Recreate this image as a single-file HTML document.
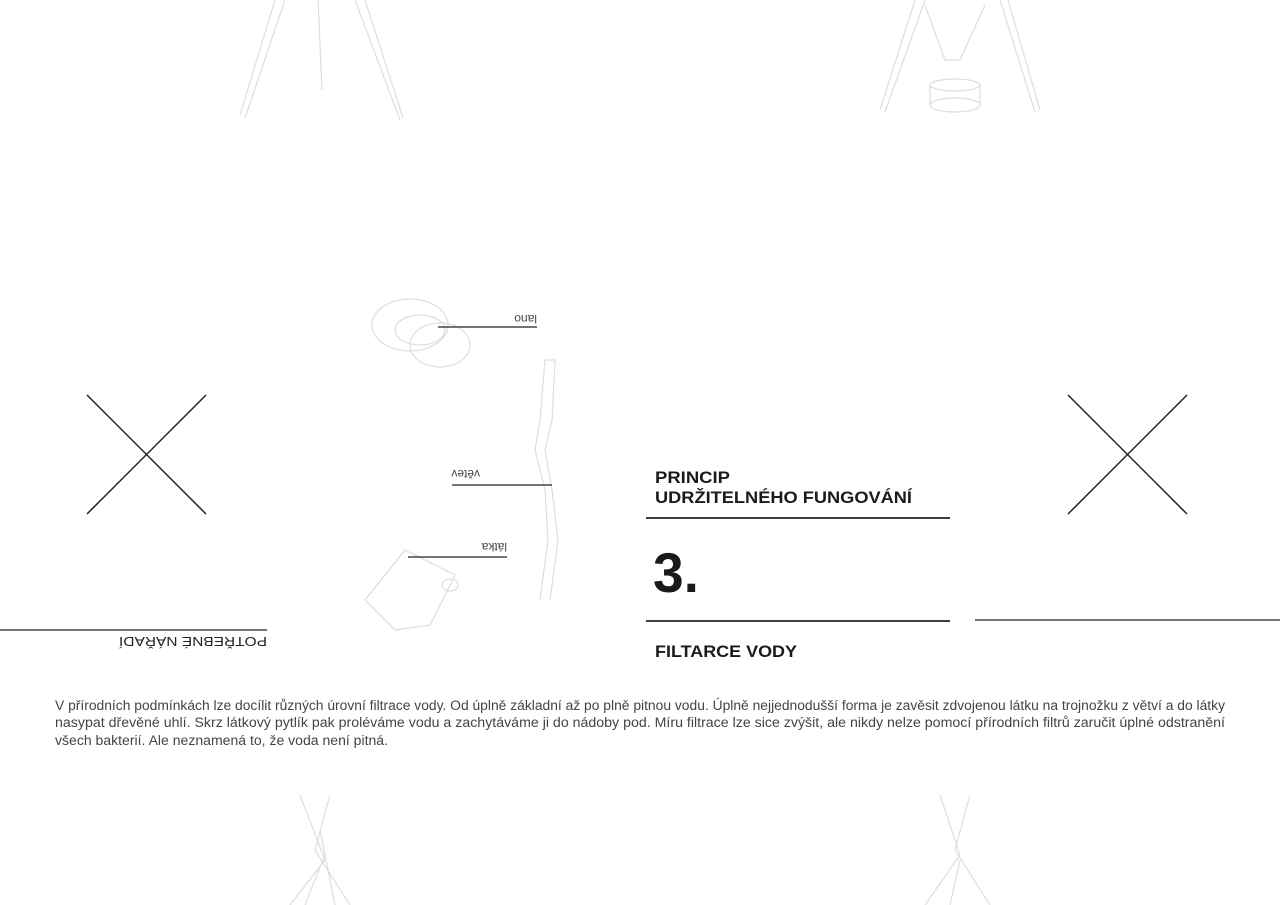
<!DOCTYPE html>
<html><head><meta charset="utf-8"><style>
body{margin:0;width:1280px;height:905px;background:#fff;overflow:hidden;position:relative;font-family:"Liberation Sans",sans-serif}
svg{position:absolute;left:0;top:0}
</style></head><body>
<svg width="1280" height="905" viewBox="0 0 1280 905">
<g stroke="#ddd" stroke-width="1.2" fill="none">
<path d="M275 0 L240 115 M285 0 L245 118 M355 0 L400 120 M365 0 L403 118 M318 0 L322 90"/>
<path d="M915 0 L880 110 M925 0 L885 112 M1000 0 L1035 112 M1008 0 L1040 110"/>
<path d="M925 5 L945 60 L960 60 L985 5"/>
<ellipse cx="955" cy="85" rx="25" ry="6"/><path d="M930 85 L930 105 M980 85 L980 105"/><ellipse cx="955" cy="105" rx="25" ry="7"/>
<path d="M300 795 L325 860 L290 905 M330 795 L315 850 L350 905 M320 830 L335 905 M305 905 L325 855"/>
<path d="M940 795 L960 855 L925 905 M970 795 L955 850 L990 905 M950 905 L960 860"/>
<ellipse cx="410" cy="325" rx="38" ry="26"/><ellipse cx="440" cy="345" rx="30" ry="22"/><ellipse cx="420" cy="330" rx="25" ry="15"/>
<path d="M545 360 L555 360 L552 420 L545 450 L552 490 L558 540 L550 600 M545 360 L540 420 L535 450 L545 490 L548 540 L540 600"/>
<path d="M365 600 L405 550 L455 575 L430 625 L395 630 Z"/><ellipse cx="450" cy="585" rx="8" ry="6"/>
</g>
<g stroke="#222" stroke-width="1.5">
<line x1="87" y1="395" x2="206" y2="514"/><line x1="206" y1="395" x2="87" y2="514"/>
<line x1="1068" y1="395" x2="1187" y2="514"/><line x1="1187" y1="395" x2="1068" y2="514"/>
</g>
<g stroke="#222" stroke-width="1.2">
<line x1="0" y1="630" x2="267" y2="630"/>
<line x1="438" y1="327" x2="537" y2="327"/>
<line x1="452" y1="485" x2="552" y2="485"/>
<line x1="408" y1="557" x2="507" y2="557"/>
<line x1="646" y1="518" x2="950" y2="518" stroke-width="1.8"/>
<line x1="646" y1="621" x2="950" y2="621" stroke-width="1.8"/>
<line x1="975" y1="620" x2="1280" y2="620"/>
</g>
<g fill="#222" font-family="Liberation Sans, sans-serif">
<text transform="rotate(180 267 637)" x="267" y="637" font-size="13" textLength="148" lengthAdjust="spacingAndGlyphs">POTŘEBNÉ NÁŘADÍ</text>
<text transform="rotate(180 537 315)" x="537" y="315" font-size="12" fill="#444">lano</text>
<text transform="rotate(180 480 470)" x="480" y="470" font-size="12" fill="#444">větev</text>
<text transform="rotate(180 507 543)" x="507" y="543" font-size="12" fill="#444">látka</text>
<g font-weight="bold" fill="#1a1a1a">
<text x="655" y="483" font-size="17" textLength="75" lengthAdjust="spacingAndGlyphs">PRINCIP</text>
<text x="655" y="503" font-size="17" textLength="257" lengthAdjust="spacingAndGlyphs">UDRŽITELNÉHO FUNGOVÁNÍ</text>
<text x="653" y="592" font-size="56" textLength="46" lengthAdjust="spacingAndGlyphs">3.</text>
<text x="655" y="657" font-size="17" textLength="142" lengthAdjust="spacingAndGlyphs">FILTARCE VODY</text>
</g>
<g font-size="13.5" fill="#444">
<text x="55" y="710" textLength="1170" lengthAdjust="spacingAndGlyphs">V přírodních podmínkách lze docílit různých úrovní filtrace vody. Od úplně základní až po plně pitnou vodu. Úplně nejjednodušší forma je zavěsit zdvojenou látku na trojnožku z větví a do látky</text>
<text x="55" y="727" textLength="1170" lengthAdjust="spacingAndGlyphs">nasypat dřevěné uhlí. Skrz látkový pytlík pak proléváme vodu a zachytáváme ji do nádoby pod. Míru filtrace lze sice zvýšit, ale nikdy nelze pomocí přírodních filtrů zaručit úplné odstranění</text>
<text x="55" y="745" textLength="333" lengthAdjust="spacingAndGlyphs">všech bakterií. Ale neznamená to, že voda není pitná.</text>
</g>
</g>
</svg>
</body></html>
